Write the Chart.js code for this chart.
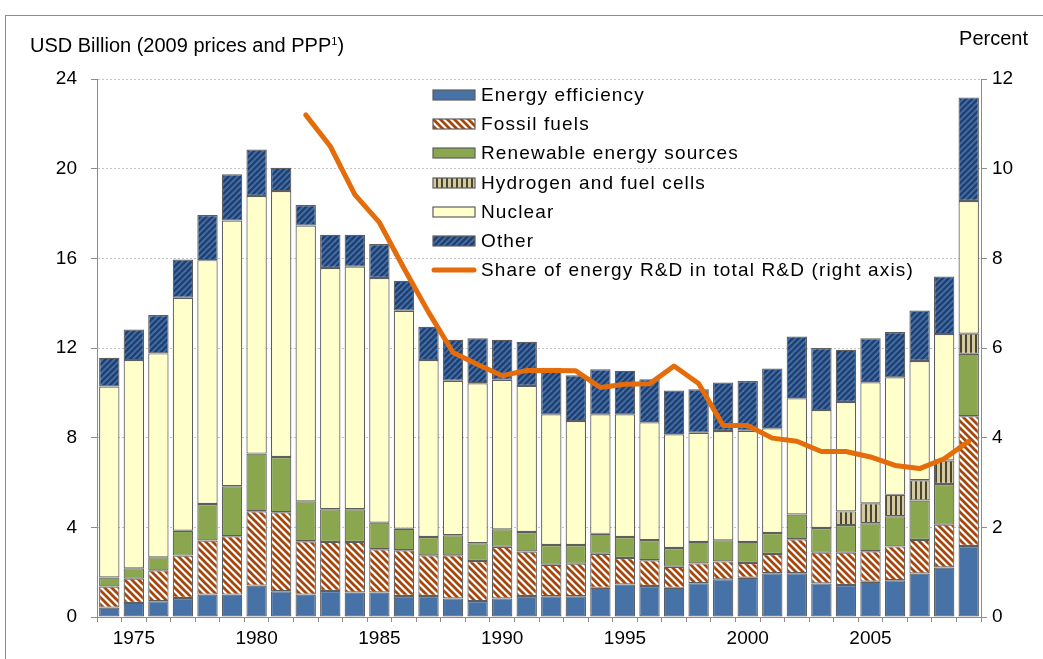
<!DOCTYPE html>
<html>
<head>
<meta charset="utf-8">
<script src="https://cdn.jsdelivr.net/npm/chart.js@4.4.1/dist/chart.umd.min.js"></script>
<style>
html,body{margin:0;padding:0;background:#fff;}
#wrap{position:relative;width:1043px;height:659px;overflow:hidden;font-family:"Liberation Sans",Arial,sans-serif;background:#fff;}
#frame{position:absolute;left:5px;top:15px;width:1100px;height:700px;border-left:1px solid #8c8c8c;border-top:1px solid #8c8c8c;box-sizing:border-box;}
#chart{position:absolute;left:0;top:0;}
.cap{position:absolute;font-size:20px;color:#000;white-space:nowrap;line-height:22px;}
.cap sup{font-size:11px;line-height:0;vertical-align:7px;}
#legend{position:absolute;left:431px;top:80px;}
.li{height:29.3px;display:flex;align-items:center;}
.li canvas{display:block;margin-right:4px;}
.li span{font-size:19px;letter-spacing:1.15px;color:#000;white-space:nowrap;}
</style>
</head>
<body>
<div id="wrap">
  <div id="frame"></div>
  <canvas id="chart" width="1043" height="659"></canvas>
  <div class="cap" style="left:30px;top:34px;">USD Billion (2009 prices and PPP<sup>1</sup>)</div>
  <div class="cap" style="right:15px;top:27px;">Percent</div>
  <div id="legend"></div>
</div>
<script>
// ---- data ----
const years = ['1974','1975','1976','1977','1978','1979','1980','1981','1982','1983','1984','1985','1986','1987','1988','1989','1990','1991','1992','1993','1994','1995','1996','1997','1998','1999','2000','2001','2002','2003','2004','2005','2006','2007','2008','2009'];
const energyEfficiency = [0.42,0.63,0.70,0.85,1.00,1.00,1.40,1.15,1.00,1.16,1.09,1.09,0.94,0.94,0.83,0.71,0.83,0.94,0.93,0.93,1.30,1.45,1.38,1.30,1.51,1.68,1.75,1.95,1.95,1.50,1.43,1.57,1.64,1.94,2.21,3.17];
const fossilFuels = [0.94,1.08,1.38,1.89,2.41,2.60,3.32,3.52,2.38,2.19,2.26,1.93,2.04,1.81,1.92,1.79,2.30,1.98,1.40,1.45,1.52,1.18,1.15,0.94,0.88,0.80,0.66,0.86,1.52,1.37,1.44,1.36,1.51,1.50,1.91,5.79];
const renewables = [0.40,0.46,0.58,1.11,1.63,2.23,2.57,2.47,1.78,1.46,1.46,1.19,0.96,0.82,0.90,0.79,0.78,0.87,0.88,0.83,0.89,0.94,0.90,0.84,0.96,0.94,0.94,0.94,1.10,1.10,1.23,1.25,1.35,1.76,1.81,2.78];
const hydrogen = [null,null,null,null,null,null,null,null,null,null,null,null,null,null,null,null,null,null,null,null,null,null,null,null,null,null,null,null,null,null,0.61,0.89,0.95,0.90,1.05,0.90];
const nuclear = [8.52,9.29,9.10,10.39,10.88,11.86,11.49,11.86,12.30,10.76,10.82,10.91,9.72,7.89,6.89,7.14,6.67,6.52,5.83,5.53,5.33,5.47,5.26,5.07,4.87,4.88,4.96,4.67,5.19,5.26,4.88,5.40,5.24,5.32,5.64,5.92];
const other = [1.28,1.36,1.71,1.71,2.01,2.06,2.07,1.04,0.92,1.48,1.42,1.52,1.34,1.49,1.83,2.01,1.79,1.97,2.08,2.04,2.01,1.94,1.92,1.95,1.94,2.16,2.22,2.66,2.75,2.77,2.33,1.96,2.02,2.25,2.57,4.62];
const shareEnergyRD = [null,null,null,null,null,null,null,null,11.2,10.5,9.42,8.8,7.78,6.8,5.9,5.63,5.38,5.5,5.5,5.49,5.12,5.19,5.2,5.6,5.21,4.27,4.27,3.99,3.92,3.69,3.69,3.57,3.38,3.31,3.53,3.92];
const leftTicks = {min:0, max:24, step:4};
const rightTicks = {min:0, max:12, step:2};
const labelYears = ['1975','1980','1985','1990','1995','2000','2005'];

// ---- patterns ----
function tile(w, h, draw){
  const c = document.createElement('canvas'); c.width = w; c.height = h;
  const g = c.getContext('2d'); draw(g, w, h); return c;
}
const ctxMain = document.getElementById('chart').getContext('2d');
const fossilTile = tile(7,7,(g,w,h)=>{
  g.fillStyle='#ffffff'; g.fillRect(0,0,w,h);
  g.strokeStyle='#a5470d'; g.lineWidth=2.7;
  for(let k=-1;k<=1;k++){ g.beginPath(); g.moveTo(k*w-1,-1); g.lineTo(k*w+w+1,h+1); g.stroke(); }
});
const otherTile = tile(6,6,(g,w,h)=>{
  g.fillStyle='#233f6c'; g.fillRect(0,0,w,h);
  g.strokeStyle='#4170ab'; g.lineWidth=1.8;
  for(let k=-1;k<=1;k++){ g.beginPath(); g.moveTo(k*w-1,h+1); g.lineTo(k*w+w+1,-1); g.stroke(); }
});
const hydroTile = tile(5,5,(g,w,h)=>{
  g.fillStyle='#d3cb9f'; g.fillRect(0,0,w,h);
  g.fillStyle='#4a4530'; g.fillRect(0,0,2,h);
});
const fossilPat = ctxMain.createPattern(fossilTile,'repeat');
const otherPat = ctxMain.createPattern(otherTile,'repeat');
const hydroPat = ctxMain.createPattern(hydroTile,'repeat');

const barCommon = {type:'bar', stack:'s', borderColor:'#5e5e5e', borderWidth:1.2, borderSkipped:false, barPercentage:0.83, categoryPercentage:1.0, order:1};
const tickFont = {family:'"Liberation Sans", Arial, sans-serif', size:19};

const chart = new Chart(ctxMain, {
  type:'bar',
  data:{
    labels: years,
    datasets:[
      Object.assign({label:'Energy efficiency', data:energyEfficiency, backgroundColor:'#4672a8'}, barCommon),
      Object.assign({label:'Fossil fuels', data:fossilFuels, backgroundColor:fossilPat}, barCommon),
      Object.assign({label:'Renewable energy sources', data:renewables, backgroundColor:'#8aa64f'}, barCommon),
      Object.assign({label:'Hydrogen and fuel cells', data:hydrogen, backgroundColor:hydroPat}, barCommon),
      Object.assign({label:'Nuclear', data:nuclear, backgroundColor:'#ffffcc'}, barCommon),
      Object.assign({label:'Other', data:other, backgroundColor:otherPat}, barCommon),
      {type:'line', label:'Share of energy R&D in total R&D (right axis)', data:shareEnergyRD, yAxisID:'y1',
       borderColor:'#e46c0a', backgroundColor:'#e46c0a', borderWidth:5, pointRadius:0, pointHoverRadius:0,
       tension:0, fill:false, spanGaps:false, borderJoinStyle:'round', borderCapStyle:'round', order:0}
    ]
  },
  options:{
    responsive:false, animation:false, devicePixelRatio:1,
    layout:{padding:{top:79,left:0,right:0,bottom:0}},
    plugins:{legend:{display:false}, tooltip:{enabled:false}, title:{display:false}},
    scales:{
      x:{
        stacked:true, offset:true,
        grid:{display:true, offset:true, drawOnChartArea:false, drawTicks:true, tickLength:5, color:'#8c8c8c', tickColor:'#8c8c8c'},
        border:{display:true, color:'#8c8c8c', width:1},
        ticks:{autoSkip:false, maxRotation:0, minRotation:0, padding:5, color:'#000', font:tickFont,
          callback:function(v,i){ const y = years[i]; return labelYears.includes(y) ? y : ''; }},
        afterFit:function(s){ s.height = 42; }
      },
      y:{
        stacked:true, position:'left', min:leftTicks.min, max:leftTicks.max,
        ticks:{stepSize:leftTicks.step, padding:14, color:'#000', font:tickFont},
        grid:{color:function(c){ return c.tick && c.tick.value===0 ? 'rgba(0,0,0,0)' : '#c4c4c4'; }, tickColor:'#8c8c8c', tickLength:6, lineWidth:1},
        border:{display:true, color:'#8c8c8c', width:1, dash:[2,2]},
        afterFit:function(s){ s.width = 97; }
      },
      y1:{
        position:'right', min:rightTicks.min, max:rightTicks.max,
        ticks:{stepSize:rightTicks.step, padding:5, color:'#000', font:tickFont},
        grid:{drawOnChartArea:false, tickColor:'#8c8c8c', tickLength:6},
        border:{display:true, color:'#8c8c8c', width:1},
        afterFit:function(s){ s.width = 62; }
      }
    }
  }
});

// ---- HTML legend built from the chart datasets ----
const legendOrder = [0,1,2,3,4,5,6];
const legendEl = document.getElementById('legend');
legendOrder.forEach(i=>{
  const ds = chart.data.datasets[i];
  const row = document.createElement('div'); row.className='li';
  const sw = document.createElement('canvas'); sw.width=46; sw.height=14;
  const g = sw.getContext('2d');
  if(ds.type==='line'){
    g.strokeStyle = ds.borderColor; g.lineWidth=5; g.lineCap='round';
    g.beginPath(); g.moveTo(3,7); g.lineTo(43,7); g.stroke();
  } else {
    const fill = ds.backgroundColor;
    g.fillStyle = (typeof fill==='string') ? fill : g.createPattern(fill===fossilPat?fossilTile:fill===otherPat?otherTile:hydroTile,'repeat');
    g.fillRect(2,2,42,10);
    g.strokeStyle='#5e5e5e'; g.lineWidth=1.2; g.strokeRect(2,2,42,10);
  }
  const sp = document.createElement('span'); sp.textContent = ds.label;
  row.appendChild(sw); row.appendChild(sp); legendEl.appendChild(row);
});
</script>
</body>
</html>
